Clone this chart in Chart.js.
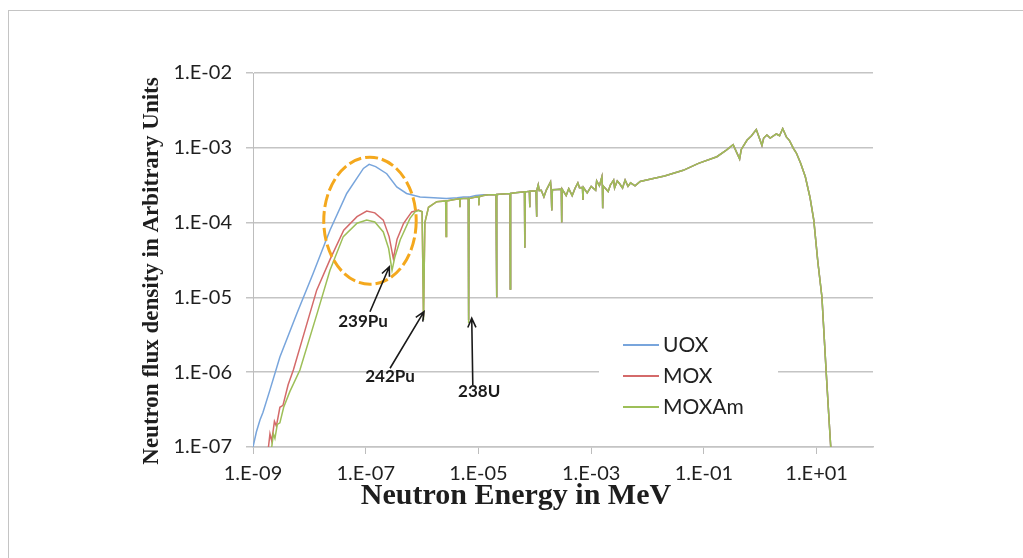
<!DOCTYPE html>
<html>
<head>
<meta charset="utf-8">
<script src="https://cdn.jsdelivr.net/npm/chart.js@4.4.1/dist/chart.umd.min.js"></script>
<style>
html, body { margin: 0; padding: 0; background: #ffffff; }
#wrap { position: relative; width: 1023px; height: 558px; overflow: hidden; background: #ffffff; }
#frame { position: absolute; left: 8px; top: 10px; width: 1100px; height: 600px;
         border-top: 1px solid #c4c4c4; border-left: 1px solid #c4c4c4; }
#c { position: absolute; left: 0; top: 0; }
</style>
</head>
<body>
<div id="wrap"><div id="frame"></div><canvas id="c" width="1023" height="558"></canvas></div>
<script>
// ---------------- data (energy in MeV, flux in arbitrary units) ----------------
const seriesNames = ['UOX', 'MOX', 'MOXAm'];

const uoxEnergyLow = [1.0e-9, 1.15e-9, 1.33e-9, 1.5e-9, 2.0e-9, 3.0e-9, 6.0e-9, 1.17e-8, 2.32e-8, 4.6e-8,
  9.1e-8, 1.15e-7, 1.5e-7, 2.36e-7, 3.55e-7, 5.3e-7, 9.2e-7, 1.6e-6, 2.7e-6, 4.2e-6, 5.4e-6,
  6.6e-6, 6.7e-6, 6.8e-6, 9.0e-6, 1.23e-5];
const uoxFluxLow = [1.0e-7, 1.6e-7, 2.3e-7, 2.9e-7, 5.8e-7, 1.6e-6, 6.1e-6, 2.1e-5, 7.9e-5, 2.45e-4,
  5.3e-4, 6.0e-4, 5.6e-4, 4.5e-4, 3.0e-4, 2.45e-4, 2.2e-4, 2.15e-4, 2.1e-4, 2.15e-4, 2.2e-4,
  2.2e-4, 5.0e-6, 2.2e-4, 2.3e-4, 2.35e-4];

const moxEnergyLow = [1.88e-9, 2.0e-9, 2.15e-9, 2.4e-9, 2.6e-9, 3.0e-9, 3.4e-9, 4.2e-9, 5.2e-9, 7.0e-9,
  1.35e-8, 2.32e-8, 4.07e-8, 7.0e-8, 1.04e-7, 1.45e-7, 2.05e-7, 2.6e-7, 3.09e-7, 3.6e-7, 4.7e-7,
  6.55e-7, 8.6e-7, 1.0e-6, 1.06e-6, 1.12e-6, 1.3e-6, 1.82e-6, 2.62e-6, 2.67e-6, 2.72e-6, 4.0e-6,
  4.65e-6, 4.7e-6, 4.75e-6, 5.4e-6, 6.6e-6, 6.7e-6, 6.8e-6, 9.0e-6, 1.01e-5, 1.02e-5, 1.03e-5, 1.23e-5];
const moxFluxLow = [1.0e-7, 1.5e-7, 1.2e-7, 2.2e-7, 1.9e-7, 3.4e-7, 3.6e-7, 6.8e-7, 1.07e-6, 2.3e-6,
  1.25e-5, 3.2e-5, 7.9e-5, 1.2e-4, 1.43e-4, 1.35e-4, 1.08e-4, 6.5e-5, 3.3e-5, 6.0e-5, 9.8e-5,
  1.39e-4, 1.47e-4, 1.4e-4, 5.5e-6, 1.0e-4, 1.6e-4, 1.9e-4, 1.95e-4, 6.5e-5, 1.95e-4, 2.05e-4,
  2.08e-4, 1.6e-4, 2.08e-4, 2.1e-4, 2.1e-4, 5.0e-6, 2.1e-4, 2.2e-4, 2.22e-4, 1.7e-4, 2.22e-4, 2.3e-4];

const moxamEnergyLow = [2.15e-9, 2.3e-9, 2.45e-9, 2.7e-9, 3.0e-9, 3.5e-9, 4.5e-9, 6.8e-9, 1.4e-8,
  2.32e-8, 4.0e-8, 7.0e-8, 1.04e-7, 1.45e-7, 2.05e-7, 2.55e-7, 2.93e-7, 3.3e-7, 4.1e-7, 6.1e-7,
  7.5e-7, 8.6e-7, 1.0e-6, 1.06e-6, 1.12e-6, 1.3e-6, 1.82e-6, 2.62e-6, 2.67e-6, 2.72e-6, 4.0e-6,
  4.65e-6, 4.7e-6, 4.75e-6, 5.4e-6, 6.6e-6, 6.7e-6, 6.8e-6, 9.0e-6, 1.01e-5, 1.02e-5, 1.03e-5, 1.23e-5];
const moxamFluxLow = [1.0e-7, 1.5e-7, 1.3e-7, 2.0e-7, 2.1e-7, 3.4e-7, 5.5e-7, 1.07e-6, 6.4e-6,
  2.3e-5, 6.5e-5, 9.8e-5, 1.08e-4, 1.02e-4, 7.5e-5, 4.5e-5, 2.3e-5, 3.5e-5, 5.9e-5, 1.14e-4,
  1.39e-4, 1.45e-4, 1.4e-4, 5.0e-6, 1.0e-4, 1.6e-4, 1.9e-4, 1.95e-4, 6.5e-5, 1.95e-4, 2.05e-4,
  2.08e-4, 1.6e-4, 2.08e-4, 2.1e-4, 2.1e-4, 4.5e-6, 2.1e-4, 2.2e-4, 2.22e-4, 1.7e-4, 2.22e-4, 2.3e-4];

// common part of the three spectra (epithermal + fast range)
const sharedEnergy = [1.5e-5, 2.05e-5, 2.09e-5, 2.13e-5, 2.7e-5, 3.62e-5, 3.67e-5, 3.72e-5, 4.5e-5, 5.5e-5,
  6.55e-5, 6.65e-5, 6.75e-5, 8.0e-5, 8.1e-5, 8.2e-5, 1.05e-4, 1.07e-4, 1.09e-4, 1.15e-4, 1.2e-4,
  1.3e-4, 1.45e-4, 1.6e-4, 1.9e-4, 1.95e-4, 2.0e-4, 2.05e-4, 2.5e-4, 2.95e-4, 3.0e-4, 3.05e-4,
  3.6e-4, 4.0e-4, 4.6e-4, 5.2e-4, 5.8e-4, 6.2e-4, 7.0e-4, 7.15e-4, 7.3e-4, 8.5e-4, 1.0e-3,
  1.2e-3, 1.25e-3, 1.4e-3, 1.55e-3, 1.58e-3, 1.6e-3, 1.63e-3, 2.0e-3, 2.2e-3, 2.5e-3, 2.6e-3,
  2.9e-3, 3.2e-3, 3.6e-3, 4.0e-3, 4.5e-3, 5.0e-3, 6.0e-3, 7.4e-3, 1.1e-2, 2.0e-2, 4.3e-2, 8.0e-2,
  1.7e-1, 2.5e-1, 3.3e-1, 4.3e-1, 4.6e-1, 5.8e-1, 7.0e-1, 8.5e-1, 1.07, 1.15, 1.31, 1.5, 1.93,
  2.2, 2.5, 2.9, 3.3, 3.87, 4.37, 5.2, 6.3, 7.6, 8.9, 10.5, 12.4, 14.8, 16.5, 17.8];
const sharedFlux = [2.35e-4, 2.38e-4, 1.0e-5, 2.38e-4, 2.42e-4, 2.45e-4, 1.3e-5, 2.45e-4, 2.5e-4, 2.55e-4,
  2.58e-4, 4.6e-5, 2.58e-4, 2.62e-4, 1.6e-4, 2.62e-4, 2.66e-4, 1.2e-4, 2.66e-4, 3.2e-4, 2.68e-4,
  2.7e-4, 2.2e-4, 2.72e-4, 3.5e-4, 2.75e-4, 1.45e-4, 2.75e-4, 2.78e-4, 2.8e-4, 1.0e-4, 2.8e-4,
  2.3e-4, 2.85e-4, 2.3e-4, 2.9e-4, 3.4e-4, 2.92e-4, 2.95e-4, 2.0e-4, 2.95e-4, 2.5e-4, 3.05e-4,
  2.7e-4, 3.6e-4, 3.1e-4, 4.1e-4, 3.1e-4, 1.55e-4, 3.1e-4, 2.6e-4, 3.2e-4, 3.7e-4, 2.9e-4,
  3.6e-4, 3.3e-4, 2.9e-4, 3.7e-4, 3.05e-4, 3.4e-4, 3.1e-4, 3.55e-4, 3.8e-4, 4.2e-4, 5.0e-4, 6.2e-4,
  7.6e-4, 9.3e-4, 1.1e-3, 7.1e-4, 9.5e-4, 1.26e-3, 1.45e-3, 1.75e-3, 1.08e-3, 1.35e-3, 1.48e-3, 1.35e-3, 1.53e-3,
  1.45e-3, 1.81e-3, 1.4e-3, 1.25e-3, 9.8e-4, 8.5e-4, 6.2e-4, 4.1e-4, 2.2e-4, 1.08e-4, 3.0e-5, 1.02e-5, 9.8e-7, 2.5e-7, 1.0e-7];

const xTickValues = [1e-9, 1e-7, 1e-5, 1e-3, 1e-1, 1e1];
const xTickLabels = ['1.E-09', '1.E-07', '1.E-05', '1.E-03', '1.E-01', '1.E+01'];
const yTickValues = [1e-7, 1e-6, 1e-5, 1e-4, 1e-3, 1e-2];
const yTickLabels = ['1.E-07', '1.E-06', '1.E-05', '1.E-04', '1.E-03', '1.E-02'];

const xAxisTitle = 'Neutron Energy in MeV';
const yAxisTitle = 'Neutron flux density in Arbitrary Units';

// annotations (anchored in data coordinates: [energy, flux])
const highlightEllipse = { center: [1.19e-7, 1.06e-4], spanDecades: [0.82, 0.85] };
const resonanceNotes = [
  { text: '239Pu', tip: [2.62e-7, 2.57e-5], tail: [1.19e-7, 6.44e-6], at: [8.95e-8, 4.7e-6] },
  { text: '242Pu', tip: [1.08e-6, 6.44e-6], tail: [2.7e-7, 1.13e-6], at: [2.7e-7, 8.65e-7] },
  { text: '238U',  tip: [7.6e-6, 5.26e-6], tail: [7.94e-6, 6.76e-7], at: [1.03e-5, 5.45e-7] }
];

// ---------------- build ----------------
function toPoints(es, fs) { return es.map((e, i) => ({ x: e, y: fs[i] })); }
const seriesData = [
  toPoints(uoxEnergyLow.concat(sharedEnergy), uoxFluxLow.concat(sharedFlux)),
  toPoints(moxEnergyLow.concat(sharedEnergy), moxFluxLow.concat(sharedFlux)),
  toPoints(moxamEnergyLow.concat(sharedEnergy), moxamFluxLow.concat(sharedFlux))
];
const seriesColors = ['#78a5dc', '#d46a6a', '#9dbf58'];
const drawOrder = [3, 2, 1]; // MOXAm on top, as in the original

const tickFont = { family: 'Lato, "Liberation Sans", sans-serif', size: 20 };

const annotationPlugin = {
  id: 'resonanceNotes',
  afterDatasetsDraw(chart) {
    const { ctx, scales: { x, y } } = chart;
    const px = e => x.getPixelForValue(e), py = f => y.getPixelForValue(f);
    ctx.save();
    const c = highlightEllipse;
    const cx = px(c.center[0]), cy = py(c.center[1]);
    const rx = px(c.center[0] * Math.pow(10, c.spanDecades[0])) - cx;
    const ry = cy - py(c.center[1] * Math.pow(10, c.spanDecades[1]));
    ctx.strokeStyle = '#f4a81d';
    ctx.lineWidth = 3;
    ctx.setLineDash([13, 4]);
    ctx.beginPath();
    ctx.ellipse(cx, cy, rx, ry, 0, 0, Math.PI * 2);
    ctx.stroke();
    ctx.setLineDash([]);
    ctx.strokeStyle = '#1a1a1a';
    ctx.fillStyle = '#1a1a1a';
    ctx.lineWidth = 1.6;
    ctx.font = 'bold 17px Lato, "Liberation Sans", sans-serif';
    ctx.textAlign = 'center';
    ctx.textBaseline = 'middle';
    resonanceNotes.forEach(n => {
      const x1 = px(n.tail[0]), y1 = py(n.tail[1]);
      const x2 = px(n.tip[0]), y2 = py(n.tip[1]);
      const a = Math.atan2(y2 - y1, x2 - x1);
      ctx.beginPath();
      ctx.moveTo(x1, y1); ctx.lineTo(x2, y2);
      ctx.moveTo(x2 - 10 * Math.cos(a - 0.42), y2 - 10 * Math.sin(a - 0.42));
      ctx.lineTo(x2, y2);
      ctx.lineTo(x2 - 10 * Math.cos(a + 0.42), y2 - 10 * Math.sin(a + 0.42));
      ctx.stroke();
      ctx.fillText(n.text, px(n.at[0]), py(n.at[1]));
    });
    ctx.restore();
  }
};

const boxLegendPlugin = {
  id: 'boxLegend',
  afterDatasetsDraw(chart) {
    const { ctx } = chart;
    ctx.save();
    ctx.fillStyle = '#ffffff';
    ctx.fillRect(599, 331, 179, 90);
    chart.data.datasets.forEach((ds, i) => {
      const ly = 345 + i * 31;
      ctx.strokeStyle = ds.borderColor;
      ctx.lineWidth = 2;
      ctx.beginPath(); ctx.moveTo(623, ly); ctx.lineTo(659, ly); ctx.stroke();
      ctx.fillStyle = '#222222';
      ctx.font = '21px Lato, "Liberation Sans", sans-serif';
      ctx.textAlign = 'left';
      ctx.textBaseline = 'middle';
      ctx.fillText(ds.label, 663, ly);
    });
    ctx.restore();
  }
};

const axisTitlePlugin = {
  id: 'axisTitles',
  afterDraw(chart) {
    const { ctx } = chart;
    ctx.save();
    ctx.fillStyle = '#1e1e1e';
    ctx.textAlign = 'center';
    ctx.textBaseline = 'middle';
    ctx.font = 'bold 30px "Liberation Serif", "DejaVu Serif", serif';
    ctx.fillText(xAxisTitle, 516, 496);
    ctx.translate(152, 271);
    ctx.rotate(-Math.PI / 2);
    ctx.font = 'bold 23px "Liberation Serif", "DejaVu Serif", serif';
    ctx.fillText(yAxisTitle, 0, 0);
    ctx.restore();
  }
};

new Chart(document.getElementById('c'), {
  type: 'scatter',
  data: {
    datasets: seriesNames.map((name, i) => ({
      label: name,
      data: seriesData[i],
      borderColor: seriesColors[i],
      backgroundColor: seriesColors[i],
      borderWidth: 1.5,
      showLine: true,
      pointRadius: 0,
      pointHoverRadius: 0,
      tension: 0,
      order: drawOrder[i]
    }))
  },
  options: {
    responsive: false,
    animation: false,
    devicePixelRatio: 1,
    layout: { padding: { left: 0, top: 73, right: 150, bottom: 0 } },
    scales: {
      x: {
        type: 'logarithmic',
        position: 'bottom',
        min: 1e-9,
        max: 1e2,
        afterBuildTicks(s) { s.ticks = xTickValues.map(v => ({ value: v })); },
        afterFit(s) { s.height = 111; },
        ticks: {
          autoSkip: false, maxRotation: 0, padding: 8,
          font: tickFont, color: '#1f1f1f',
          callback: (v, i) => xTickLabels[i]
        },
        grid: { drawOnChartArea: false, drawTicks: true, tickLength: 7, color: '#bdbdbd', lineWidth: 1 },
        border: { display: true, color: '#c4c4c4', width: 1.5 }
      },
      y: {
        type: 'logarithmic',
        position: 'left',
        min: 1e-7,
        max: 1e-2,
        afterBuildTicks(s) { s.ticks = yTickValues.map(v => ({ value: v })); },
        afterFit(s) { s.width = 253; },
        ticks: {
          padding: 14, font: tickFont, color: '#1f1f1f',
          callback: (v, i) => yTickLabels[i]
        },
        grid: { drawOnChartArea: true, drawTicks: true, tickLength: 7, color: '#c4c4c4', lineWidth: 1.5 },
        border: { display: true, color: '#bdbdbd', width: 1 }
      }
    },
    plugins: { legend: { display: false }, tooltip: { enabled: false } }
  },
  plugins: [annotationPlugin, boxLegendPlugin, axisTitlePlugin]
});
</script>
</body>
</html>
